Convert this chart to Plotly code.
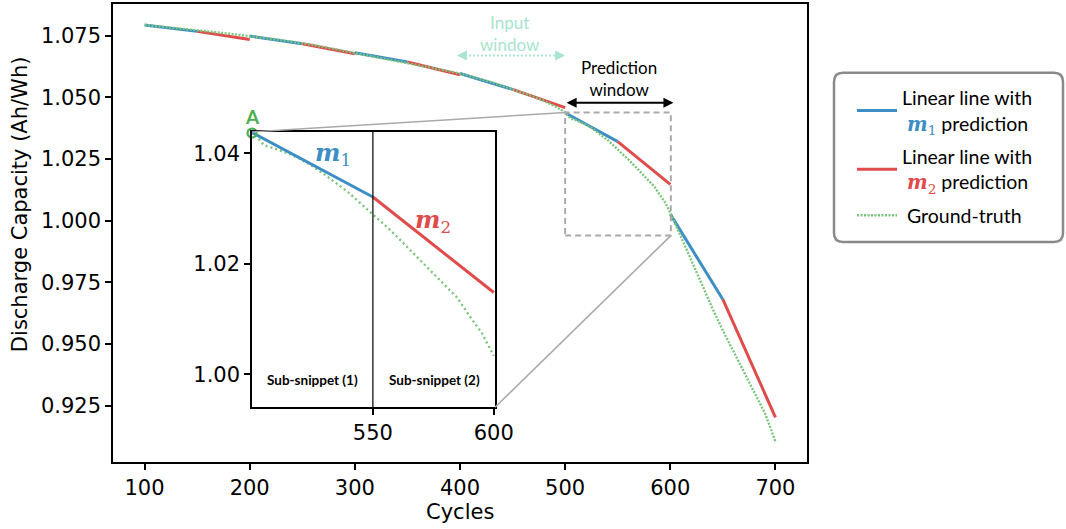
import plotly.graph_objects as go

# ---------------- data ----------------
cycles = [100, 110, 120, 130, 140, 150, 160, 170, 180, 190,
          200, 210, 220, 230, 240, 250, 260, 270, 280, 290,
          300, 310, 320, 330, 340, 350, 360, 370, 380, 390,
          400, 410, 420, 430, 440, 450, 460, 470, 480, 490,
          500, 505, 510, 515, 520, 525, 530, 535, 540, 545,
          550, 555, 560, 565, 570, 575, 580, 585, 590, 595,
          600, 610, 620, 630, 640, 650, 660, 670, 680, 690, 700]
capacity = [1.0794, 1.0790, 1.0786, 1.0782, 1.0778, 1.0773, 1.0768, 1.0764, 1.0759, 1.0754,
            1.0749, 1.0744, 1.0738, 1.0732, 1.0726, 1.0720, 1.0713, 1.0705, 1.0697, 1.0689,
            1.0681, 1.0673, 1.0665, 1.0657, 1.0648, 1.0639, 1.0632, 1.0624, 1.0615, 1.0606,
            1.0597, 1.0586, 1.0574, 1.0562, 1.0548, 1.0534, 1.0519, 1.0503, 1.0486, 1.0465,
            1.0440, 1.0415, 1.0408, 1.0400, 1.0390, 1.0377, 1.0362, 1.0345, 1.0329, 1.0309,
            1.0290, 1.0270, 1.0249, 1.0227, 1.0204, 1.0182, 1.0160, 1.0138, 1.0105, 1.0075,
            1.0033, 0.9940, 0.9840, 0.9743, 0.9645, 0.9555, 0.9472, 0.9390, 0.9305, 0.9220, 0.9105]

seg_start = [100, 200, 300, 400, 500, 600]
seg_mid = [150, 250, 350, 450, 550, 650]
seg_end = [200, 300, 400, 500, 600, 700]
m1_start_val = [1.0794, 1.0749, 1.0681, 1.0597, 1.0438, 1.0027]
m1_end_val = [1.0768, 1.0718, 1.0644, 1.0533, 1.0321, 0.9681]
m2_end_val = [1.0735, 1.0677, 1.0592, 1.0459, 1.0148, 0.9203]

x_ticks = [100, 200, 300, 400, 500, 600, 700]
y_ticks = [0.925, 0.950, 0.975, 1.000, 1.025, 1.050, 1.075]
inset_x_ticks = [550, 600]
inset_y_ticks = [1.00, 1.02, 1.04]

point_a = (500, 1.0437)

# ---------------- styling ----------------
BLUE = "#3d8ec5"
RED = "#e04b4b"
GREEN = "#79c57a"
A_GREEN = "#4caf50"
MINT = "#a8e4cf"
GRAY = "#aaaaaa"

X_RANGE = [70, 730]
Y_RANGE = [0.9022, 1.0879]
INSET_X = [500, 600.5]
INSET_Y = [0.9940, 1.0439]

W, H = 1066, 529
ML, MR, MT, MB = 113, 259, 2, 67
PW, PH = W - ML - MR, H - MT - MB


def paper(px, py):
    return (px - ML) / PW, 1 - (py - MT) / PH


def yv(py):
    return Y_RANGE[0] + paper(0, py)[1] * (Y_RANGE[1] - Y_RANGE[0])


inset_dom_x = [paper(252, 0)[0], paper(495, 0)[0]]
inset_dom_y = [paper(0, 407)[1], paper(0, 130.5)[1]]


def x_of(d):
    return X_RANGE[0] + d * (X_RANGE[1] - X_RANGE[0])


def y_of(d):
    return Y_RANGE[0] + d * (Y_RANGE[1] - Y_RANGE[0])


def segs(starts, ends, v0, v1):
    xs, ys = [], []
    for a, b, p, q in zip(starts, ends, v0, v1):
        xs += [a, b, None]
        ys += [p, q, None]
    return xs, ys


fig = go.Figure()

bx, by = segs(seg_start, seg_mid, m1_start_val, m1_end_val)
rx, ry = segs(seg_mid, seg_end, m1_end_val, m2_end_val)

fig.add_trace(go.Scatter(
    x=bx, y=by, mode="lines", line=dict(color=BLUE, width=3),
    name="Linear line with<br> <span style='color:%s;font-family:DejaVu Serif'><b><i>m</i></b><sub>1</sub></span> prediction" % BLUE,
    legendgroup="a", legendrank=1))
fig.add_trace(go.Scatter(
    x=rx, y=ry, mode="lines", line=dict(color=RED, width=3),
    name="Linear line with<br> <span style='color:%s;font-family:DejaVu Serif'><b><i>m</i></b><sub>2</sub></span> prediction" % RED,
    legendgroup="b", legendrank=2))
fig.add_trace(go.Scatter(
    x=cycles, y=capacity, mode="lines",
    line=dict(color=GREEN, width=2.4, dash="2px,1.5px"),
    name=" Ground-truth", legendgroup="c", legendrank=3))

# ---- inset traces ----
in_x = [c for c in cycles if 495 <= c <= 605]
in_y = [v for c, v in zip(cycles, capacity) if 495 <= c <= 605]
fig.add_trace(go.Scatter(
    x=in_x, y=in_y, mode="lines", xaxis="x2", yaxis="y2",
    line=dict(color=GREEN, width=2.4, dash="2px,3px"), showlegend=False))
fig.add_trace(go.Scatter(
    x=[seg_start[4], seg_mid[4]], y=[m1_start_val[4], m1_end_val[4]],
    mode="lines", xaxis="x2", yaxis="y2",
    line=dict(color=BLUE, width=3), showlegend=False))
fig.add_trace(go.Scatter(
    x=[seg_mid[4], seg_end[4]], y=[m1_end_val[4], m2_end_val[4]],
    mode="lines", xaxis="x2", yaxis="y2",
    line=dict(color=RED, width=3), showlegend=False))
fig.add_trace(go.Scatter(
    x=[point_a[0]], y=[point_a[1]], mode="markers", xaxis="x2", yaxis="y2",
    marker=dict(symbol="circle-open", size=9, color=A_GREEN, line=dict(width=2.2, color=A_GREEN)),
    cliponaxis=False, showlegend=False))

tickfont = dict(family="DejaVu Sans", size=21, color="black")
common = dict(showgrid=False, zeroline=False, showline=True, linecolor="black",
              linewidth=1.5, mirror=True, ticks="outside", ticklen=6, tickwidth=1.5,
              tickcolor="black", tickfont=tickfont)

fig.update_layout(
    width=W, height=H,
    margin=dict(l=ML, r=MR, t=MT, b=MB),
    paper_bgcolor="white", plot_bgcolor="white",
    xaxis=dict(range=X_RANGE, tickvals=x_ticks, ticktext=[str(v) for v in x_ticks], **common),
    yaxis=dict(range=Y_RANGE, tickvals=y_ticks, ticktext=["%.3f" % v for v in y_ticks], **common),
    xaxis2=dict(domain=inset_dom_x, anchor="y2", range=INSET_X, tickvals=inset_x_ticks,
                ticktext=[str(v) for v in inset_x_ticks], **common),
    yaxis2=dict(domain=inset_dom_y, anchor="x2", range=INSET_Y, tickvals=inset_y_ticks,
                ticktext=["%.2f" % v for v in inset_y_ticks], **common),
    showlegend=True,
    legend=dict(x=paper(852, 0)[0], y=paper(0, 77)[1], xanchor="left", yanchor="top",
                bgcolor="rgba(0,0,0,0)", borderwidth=0,
                font=dict(family="Lato", size=19.5, color="black"),
                itemwidth=40, tracegroupgap=5, valign="middle"),
)

shapes = []
# zoom rectangle
shapes.append(dict(type="rect", xref="x", yref="y", x0=INSET_X[0], x1=INSET_X[1],
                   y0=INSET_Y[0], y1=INSET_Y[1], line=dict(color=GRAY, width=2, dash="6px,4px")))
# connectors
shapes.append(dict(type="line", xref="x", yref="y", x0=x_of(inset_dom_x[0]), y0=y_of(inset_dom_y[1]),
                   x1=INSET_X[0], y1=INSET_Y[1], line=dict(color=GRAY, width=1.6)))
shapes.append(dict(type="line", xref="x", yref="y", x0=x_of(inset_dom_x[1]), y0=y_of(inset_dom_y[0]),
                   x1=INSET_X[1], y1=INSET_Y[0], line=dict(color=GRAY, width=1.6)))
# divider in inset
shapes.append(dict(type="line", xref="x2", yref="y2 domain", x0=550, x1=550, y0=0, y1=1,
                   line=dict(color="black", width=1.2)))
# input-window dotted arrow shaft
shapes.append(dict(type="line", xref="x", yref="y", x0=401, x1=496, y0=1.0670, y1=1.0670,
                   line=dict(color=MINT, width=2, dash="2px,2px")))


# rounded legend frame
def rounded_rect(x0, y0, x1, y1, r):
    def P(px, py):
        a, b = paper(px, py)
        return "%.5f,%.5f" % (a, b)
    return "M%s L%s Q%s %s L%s Q%s %s L%s Q%s %s L%s Q%s %s Z" % (
        P(x0 + r, y0), P(x1 - r, y0), P(x1, y0), P(x1, y0 + r),
        P(x1, y1 - r), P(x1, y1), P(x1 - r, y1),
        P(x0 + r, y1), P(x0, y1), P(x0, y1 - r),
        P(x0, y0 + r), P(x0, y0), P(x0 + r, y0))


shapes.append(dict(type="path", xref="paper", yref="paper",
                   path=rounded_rect(834, 71, 1063, 241, 9),
                   line=dict(color="#8a8a8a", width=2.5), fillcolor="rgba(0,0,0,0)"))

fig.update_layout(shapes=shapes)

ann = []
ann.append(dict(xref="paper", yref="paper", x=paper(20, 0)[0], y=paper(0, 203)[1],
                text="Discharge Capacity (Ah/Wh)", textangle=-90, showarrow=False,
                font=dict(family="DejaVu Sans", size=21, color="black"),
                xanchor="center", yanchor="middle"))
ann.append(dict(xref="paper", yref="paper", x=paper(460, 0)[0], y=paper(0, 512)[1],
                text="Cycles", showarrow=False,
                font=dict(family="DejaVu Sans", size=21, color="black"),
                xanchor="center", yanchor="middle"))
# Input window
ann.append(dict(xref="x", yref="y", x=448, y=yv(32), text="Input<br>window", showarrow=False,
                font=dict(family="Lato", size=17, color=MINT)))
ann.append(dict(xref="x", yref="y", x=500, y=1.0670, ax=-9, ay=0, text="", showarrow=True,
                arrowhead=2, arrowsize=1, arrowwidth=2, arrowcolor=MINT))
ann.append(dict(xref="x", yref="y", x=397, y=1.0670, ax=9, ay=0, text="", showarrow=True,
                arrowhead=2, arrowsize=1, arrowwidth=2, arrowcolor=MINT))
# Prediction window
ann.append(dict(xref="x", yref="y", x=551, y=yv(77), text="Prediction<br>window", showarrow=False,
                font=dict(family="Lato", size=17, color="black")))
ann.append(dict(xref="x", yref="y", x=603, y=1.0479, axref="x", ayref="y", ax=500, ay=1.0479,
                text="", showarrow=True, arrowhead=2, arrowside="end+start",
                arrowsize=1, arrowwidth=2, arrowcolor="black"))
# inset labels
ann.append(dict(xref="x2", yref="y2", x=point_a[0], y=point_a[1], text="<b>A</b>", showarrow=False,
                yshift=17, font=dict(family="Lato", size=19, color=A_GREEN)))
ann.append(dict(xref="x2", yref="y2", x=533.7, y=1.0399,
                text="<b><i>m</i></b><sub>1</sub>", showarrow=False,
                font=dict(family="DejaVu Serif", size=24, color=BLUE)))
ann.append(dict(xref="x2", yref="y2", x=574.8, y=1.0277,
                text="<b><i>m</i></b><sub>2</sub>", showarrow=False,
                font=dict(family="DejaVu Serif", size=24, color=RED)))
ann.append(dict(xref="x2", yref="y2", x=525, y=0.9990, text="<b>Sub-snippet (1)</b>", showarrow=False,
                font=dict(family="Lato", size=13.5, color="black")))
ann.append(dict(xref="x2", yref="y2", x=575.5, y=0.9990, text="<b>Sub-snippet (2)</b>", showarrow=False,
                font=dict(family="Lato", size=13.5, color="black")))
fig.update_layout(annotations=ann)

fig.write_html("out.html", config={"displayModeBar": False},
               post_script="document.body.style.margin='0px';")
